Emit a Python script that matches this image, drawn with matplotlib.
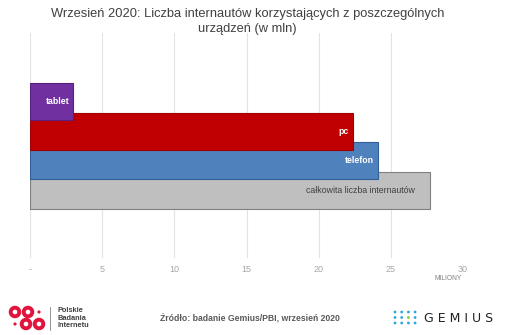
import matplotlib.pyplot as plt
from matplotlib.patches import Ellipse

plt.rcParams['font.family'] = ['Liberation Sans', 'DejaVu Sans']

# Data (millions of internet users, September 2020)
devices = ['całkowita liczba internautów', 'telefon', 'pc', 'tablet']
values = [27.7, 24.1, 22.4, 3.0]
bar_colors = ['#BFBFBF', '#4F81BD', '#C00000', '#7030A0']
edge_colors = ['#808080', '#2F5F9A', '#A00000', '#5A2080']
label_colors = ['#404040', 'white', 'white', 'white']
ticks = [0, 5, 10, 15, 20, 25, 30]
tick_labels = ['-', '5', '10', '15', '20', '25', '30']

fig = plt.figure(figsize=(5.12, 3.35), dpi=100)
ax = fig.add_axes([0.0586, 0.2299, 0.8457, 0.6716])

for i, (name, v) in enumerate(zip(devices, values)):
    ax.barh(i, v, height=1.25, color=bar_colors[i], edgecolor=edge_colors[i],
            linewidth=0.8, zorder=2 + i)
    weight = 'normal' if i == 0 else 'bold'
    pad = 1.0 if i == 0 else 0.3
    ax.text(v - pad, i, name, ha='right', va='center', fontsize=6.3,
            color=label_colors[i], fontweight=weight, zorder=10)

ax.set_xlim(0, 30)
ax.set_ylim(-2.27, 5.31)
ax.set_xticks(ticks)
ax.set_xticklabels(tick_labels, fontsize=6.5, color='#A6A6A6')
ax.set_yticks([])
ax.tick_params(axis='x', length=0, pad=5)
ax.grid(axis='x', color='#E3E3E3', linewidth=0.8, zorder=0)
for s in ax.spines.values():
    s.set_visible(False)
ax.text(29.0, -2.95, 'MILIONY', fontsize=4.8, color='#808080', ha='center',
        va='center', clip_on=False)

fig.text(0.484, 0.935, 'Wrzesień 2020: Liczba internautów korzystających z poszczególnych\nurządzeń (w mln)',
         ha='center', va='center', fontsize=9.3, color='#404040', linespacing=1.3)

W, H = 512, 335

# footer: source
fig.text(160 / W, 1 - 318 / H, 'Źródło: badanie Gemius/PBI, wrzesień 2020',
         ha='left', va='center', fontsize=6.2, color='#595959', fontweight='bold')

# footer: PBI logo
red = '#E0143C'
for (cx, cy, r) in [(15, 312, 4.3), (28, 312, 4.3), (26, 324, 4.3), (39, 324, 4.3)]:
    fig.patches.append(Ellipse((cx / W, 1 - cy / H), 2 * r / W, 2 * r / H,
                               transform=fig.transFigure, facecolor='white',
                               edgecolor=red, linewidth=2.8))
for (cx, cy) in [(39, 312), (15, 324)]:
    fig.patches.append(Ellipse((cx / W, 1 - cy / H), 3.2 / W, 3.2 / H,
                               transform=fig.transFigure, facecolor=red,
                               edgecolor='none'))
fig.add_artist(plt.Line2D([50 / W, 50 / W], [1 - 307 / H, 1 - 330 / H],
                          color='#808080', linewidth=0.6))
fig.text(57 / W, 1 - 318 / H, 'Polskie\nBadania\nInternetu', ha='left', va='center',
         fontsize=5.3, color='#404040', fontweight='bold', linespacing=1.05)

# footer: GEMIUS logo
for r in range(3):
    for c in range(4):
        col = '#8DC63F' if (r == 1 and c == 2) else '#29A8E0'
        fig.patches.append(Ellipse(((395 + c * 6.7) / W, 1 - (312 + r * 5.5) / H),
                                   2.8 / W, 2.8 / H, transform=fig.transFigure,
                                   facecolor=col, edgecolor='none'))
fig.text(424 / W, 1 - 319 / H, 'G E M I U S', ha='left', va='center',
         fontsize=9.0, color='#222222', family='DejaVu Sans')

fig.savefig('out.png', dpi=100)
